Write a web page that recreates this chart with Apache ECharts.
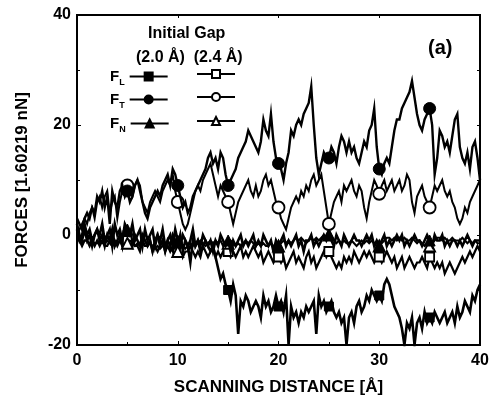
<!DOCTYPE html>
<html><head><meta charset="utf-8">
<script src="https://cdn.jsdelivr.net/npm/echarts@6/dist/echarts.min.js"></script>
<style>html,body{margin:0;padding:0;background:#fff}#c{width:499px;height:411px}</style>
</head><body><div id="c"></div>
<script>
// x grid: scanning distance in steps of 0.25 Å (0..40)
const step = 0.25;
const xTicks = [0, 10, 20, 30, 40];
const yTicks = [-20, 0, 20, 40];
const markerX = [5, 10, 15, 20, 25, 30, 35];

// F_T, initial gap 2.0 Å (filled circles)
const fT20 = [3,2,1,3, 4,3,5,4, 7,6,8,5, 7,2,8,6, 5,8,9,7, 8,6,7,9, 10,8,6,4, 3,5,6,7, 8,7,9,10, 11,9,12,11,
  9,7,5,6, 4,5,7,8, 9,10,11,12, 14,15,13,14, 12,15,14,11, 9,10,11,12, 14,15,16,17, 19,18,17,16, 15,17,21,19, 18,22,17,14,
  13,12,10,13, 15,19,18,20, 21,20,22,23, 24,27,20,14, 11,13,15,14, 14,16,15,13, 16,18,17,15, 17,15,16,14, 13,15,17,16, 19,20,23,16,
  12,11,13,14, 13,16,19,21, 21,23,24,25, 26,28,25,22, 20,19,21,22, 23,20,11,14, 19,18,16,17, 15,18,21,22, 16,14,13,15, 12,16,17,14, 10];
// F_T, initial gap 2.4 Å (open circles)
const fT24 = [0,1,2,3, 2,4,5,3, 6,7,5,7, 8,4,6,7, 3,6,8,9, 9,8,7,9, 10,9,6,5, 4,6,7,8, 7,6,8,9, 10,9,11,8,
  6,4,2,1, 2,4,6,8, 9,8,10,11, 12,13,11,9, 7,9,8,7, 6,4,2,4, 6,7,8,9, 10,8,7,9, 7,8,10,11, 9,10,8,6,
  5,3,2,1, 3,5,6,7, 6,8,7,9, 8,10,11,9, 10,11,8,5, 2,4,6,7, 8,6,9,8, 9,10,8,7, 9,8,5,3, 6,8,10,9,
  7.5,9,10,8, 9,10,8,9, 10,8,9,11, 10,6,4,7, 8,9,7,6, 5,7,9,8, 9,10,8,7, 8,6,5,3, 2,3,5,4, 6,7,8,9, 10];
// F_N, initial gap 2.0 Å (filled triangles)
const fN20 = [1,-1,0,2, 0,1,-1,0, 1,0,2,-1, 0,1,-2,2, 0,1,-1,2, 1,0,2,-1, 0,1,-2,1, -1,0,1,-2, 0,-1,1,-2, -1,0,-2,1,
  -1,-2,0,-1, -2,-1,1,-2, -1,-2,0,-1, -2,-1,-3,-1, -2,0,-1,-2, -1,-3,-1,-2, -1,0,-2,-1, -2,-1,0,-2, -1,-2,0,-1, -2,-1,-3,-1,
  -2,-1,0,-2, -1,-2,-1,0, -2,-1,-3,-1, -1,0,-2,-1, -2,-1,0,-1, 0,-1,-2,0, -1,-2,0,-1, -2,-1,0,-1, -1,-2,-1,0, -1,0,-2,-1,
  -2,-1,0,-2, -1,-2,-1,0, -1,0,-2,-1, -2,-1,0,-1, -1,-2,-1,0, -1,-2,0,-1, -1,0,-2,-1, -2,-1,-1,-2, -1,-2,-1,0, -1,-2,-1,-1, -1];
// F_N, initial gap 2.4 Å (open triangles)
const fN24 = [-1,-1,-1.5,-1, -1,-1.5,-1,-1.5, -1.5,-1,-1.5,-1.5, -1,-1.5,-2,-1.5, -1.5,-1,-1.5,-2, -1.5,-1,-1.5,-2, -1.5,-2,-1.5,-2, -2,-1.5,-2,-2.5, -2,-2.5,-2,-1.5, -2,-2.5,-3,-2,
  -3,-2.5,-2,-2.5, -2,-1.5,-2,-1.5, -1.5,-1,-1.5,-2, -1.5,-1,-1.5,-1, -1.5,-1,-2,-1.5, -1.5,-1,-1.5,-2, -1.5,-2,-1.5,-1, -1.5,-1,-1.5,-2, -1.5,-2,-1.5,-2, -2,-1.5,-2,-2.5,
  -2,-1.5,-1,-1.5, -1,-1.5,-1,-0.5, -1,-0.5,-1,-1.5, -1,-0.5,-1,-0.5, -1,-0.5,0,-0.5, 0,-0.5,-1,-1.5, -1,-1.5,-1,-1.5, -1.5,-1,-1.5,-2, -1.5,-1,-1.5,-1, -1.5,-1,-1.5,-2,
  -2,-1.5,-1,-0.5, -0.5,-1,-0.5,-1, -0.5,-1,-0.5,-1, -1,-0.5,-1,-1.5, -1,-1.5,-2,-1.5, -2,-1.5,-1,-0.5, -0.5,-1,-0.5,-1, -1,-0.5,-1,-1, -1,-0.5,-1,-1.5, -1,-1.5,-1,-1.5, -1.5];
// F_L, initial gap 2.0 Å (filled squares)
const fL20 = [2,0,-1,1, -1,0,-2,0, 1,-1,0,-2, 0,-1,1,-2, -1,0,-2,1, 0,-1,-2,0, -1,-2,0,-1, -2,-1,-3,-1, 0,-2,-1,-3, -1,-2,0,-1,
  -2,0,-3,-1, -2,-5,-1,-2, -1,-3,-2,-1, -2,-3,-2,-4, -6,-8,-7,-9, -10,-12,-9,-11, -18,-12,-13,-11, -12,-14,-13,-12, -13,-15,-11,-13, -12,-14,-13,-11,
  -13,-12,-14,-11, -20,-13,-15,-14, -16,-14,-15,-13, -14,-13,-12,-18, -11,-13,-12,-14, -13,-12,-14,-15, -14,-16,-15,-20, -15,-14,-16,-13, -12,-14,-13,-11, -12,-10,-11,-12,
  -11,-12,-9,-8, -9,-11,-13,-14, -15,-17,-20,-16, -17,-15,-20,-16, -15,-17,-14,-16, -15,-16,-14,-15, -16,-15,-14,-16, -15,-14,-16,-13, -15,-14,-12,-13, -14,-11,-12,-10, -9];
// F_L, initial gap 2.4 Å (open squares)
const fL24 = [0,-1,-2,-1, -1,-2,-1,-2, -1,-2,-1,-2, -2,-1,-2,-1, -2,-1,-2,-2, -1,-2,-1,-2, -2,-3,-1,-2, -2,-1,-3,-2, -3,-2,-1,-3, -2,-3,-2,-3,
  -3,-2,-4,-3, -3,-2,-3,-4, -3,-4,-2,-3, -4,-3,-2,-4, -3,-4,-3,-2, -3,-4,-3,-4, -3,-2,-4,-3, -4,-3,-2,-3, -4,-3,-5,-4, -3,-4,-5,-4,
  -4,-5,-4,-6, -5,-4,-3,-5, -4,-5,-6,-4, -3,-5,-4,-6, -5,-4,-3,-4, -3,-4,-5,-6, -5,-6,-4,-5, -4,-5,-3,-4, -5,-4,-3,-4, -3,-4,-5,-4,
  -4,-5,-4,-3, -4,-5,-4,-6, -5,-4,-6,-5, -4,-5,-6,-5, -5,-4,-5,-6, -4,-5,-6,-5, -6,-5,-7,-6, -5,-6,-7,-6, -5,-4,-5,-4, -3,-4,-3,-2, -3];

const FONT = '"Liberation Sans", Arial, sans-serif';

function build(vals) {
  return vals.map((v, i) => {
    const x = i * step;
    const item = { value: [x, v] };
    if (!markerX.includes(x)) item.symbol = 'none';
    return item;
  });
}

const defs = [
  { name: 'FL20', vals: fL20, symbol: 'rect', open: false, size: 9, row: 0, w: 2.6 },
  { name: 'FL24', vals: fL24, symbol: 'rect', open: true, size: 9, row: 0, w: 2.2 },
  { name: 'FN24', vals: fN24, symbol: 'triangle', open: true, size: 11, row: 2, w: 2 },
  { name: 'FN20', vals: fN20, symbol: 'triangle', open: false, size: 11, row: 2, w: 2.6 },
  { name: 'FT24', vals: fT24, symbol: 'circle', open: true, size: 12, row: 1, w: 2 },
  { name: 'FT20', vals: fT20, symbol: 'circle', open: false, size: 12, row: 1, w: 2.4 }
];
const subs = ['L', 'T', 'N'];

const series = defs.map((d, k) => ({
  name: d.name,
  type: 'line',
  data: build(d.vals),
  symbol: d.symbol,
  symbolSize: d.size,
  showAllSymbol: true,
  animation: false,
  lineStyle: { color: '#000', width: d.w, join: 'miter' },
  itemStyle: d.open ? { color: '#fff', borderColor: '#000', borderWidth: 1.8 } : { color: '#000', borderColor: '#000', borderWidth: 1 },
  z: 2 + k
}));

const rowTop = [69, 92, 116];
const legends = [];
defs.forEach(d => {
  legends.push({
    data: [{ name: d.name, lineStyle: { width: 2 } }],
    top: rowTop[d.row],
    left: d.open ? 196 : 110,
    align: d.open ? 'left' : 'right',
    itemWidth: 38,
    itemHeight: 10,
    itemGap: 0,
    padding: 0,
    selectedMode: false,
    formatter: d.open ? () => '' : () => '{f|F}{s|' + subs[d.row] + '}',
    textStyle: {
      rich: {
        f: { fontFamily: FONT, fontWeight: 'bold', fontSize: 15, color: '#000' },
        s: { fontFamily: FONT, fontWeight: 'bold', fontSize: 9, color: '#000', padding: [12, 0, 0, 0] }
      }
    }
  });
});

const chart = echarts.init(document.getElementById('c'), null, { renderer: 'canvas' });
const axisLabelStyle = { fontFamily: FONT, fontWeight: 'bold', fontSize: 16, color: '#000' };
chart.setOption({
  backgroundColor: '#fff',
  animation: false,
  grid: { left: 77, right: 19, top: 15, bottom: 66, show: true, borderColor: '#000', borderWidth: 2, backgroundColor: 'transparent' },
  legend: legends,
  xAxis: [{
    type: 'value', min: xTicks[0], max: xTicks[xTicks.length - 1], interval: 10,
    name: 'SCANNING DISTANCE [Å]', nameLocation: 'middle', nameGap: 34,
    nameTextStyle: { fontFamily: FONT, fontWeight: 'bold', fontSize: 17, color: '#000' },
    axisLine: { onZero: false, lineStyle: { color: '#000', width: 2 } },
    axisTick: { inside: true, length: 4, lineStyle: { color: '#000' } },
    minorTick: { show: true, splitNumber: 2, length: 3, lineStyle: { color: '#000' } },
    axisLabel: Object.assign({ margin: 8, formatter: v => xTicks.includes(v) ? String(v) : '' }, axisLabelStyle),
    splitLine: { show: false }
  }, {
    type: 'value', position: 'top', min: 0, max: 40, interval: 10,
    axisLine: { onZero: false, lineStyle: { color: '#000', width: 2 } },
    axisTick: { inside: true, length: 3, lineStyle: { color: '#000' } },
    axisLabel: { show: false }, splitLine: { show: false }
  }],
  yAxis: [{
    type: 'value', min: yTicks[0], max: yTicks[yTicks.length - 1], interval: 20,
    name: 'FORCES [1.60219 nN]', nameLocation: 'middle', nameGap: 46, nameRotate: 90,
    nameTextStyle: { fontFamily: FONT, fontWeight: 'bold', fontSize: 17, color: '#000' },
    axisLine: { onZero: false, lineStyle: { color: '#000', width: 2 } },
    axisTick: { inside: true, length: 4, lineStyle: { color: '#000' } },
    minorTick: { show: true, splitNumber: 2, length: 3, lineStyle: { color: '#000' } },
    axisLabel: Object.assign({ margin: 6, formatter: v => yTicks.includes(v) ? String(v) : '' }, axisLabelStyle),
    splitLine: { show: false }
  }, {
    type: 'value', position: 'right', min: -20, max: 40, interval: 10,
    axisLine: { onZero: false, lineStyle: { color: '#000', width: 2 } },
    axisTick: { inside: true, length: 3, lineStyle: { color: '#000' } },
    axisLabel: { show: false }, splitLine: { show: false }
  }],
  graphic: [
    { type: 'text', left: 148, top: 26, style: { text: 'Initial Gap', font: 'bold 16px ' + FONT, fill: '#000' } },
    { type: 'text', left: 136, top: 50, style: { text: '(2.0 Å)  (2.4 Å)', font: 'bold 16px ' + FONT, fill: '#000' } },
    { type: 'text', left: 428, top: 38, style: { text: '(a)', font: 'bold 20px ' + FONT, fill: '#000' } }
  ],
  series: series
});
</script></body></html>
